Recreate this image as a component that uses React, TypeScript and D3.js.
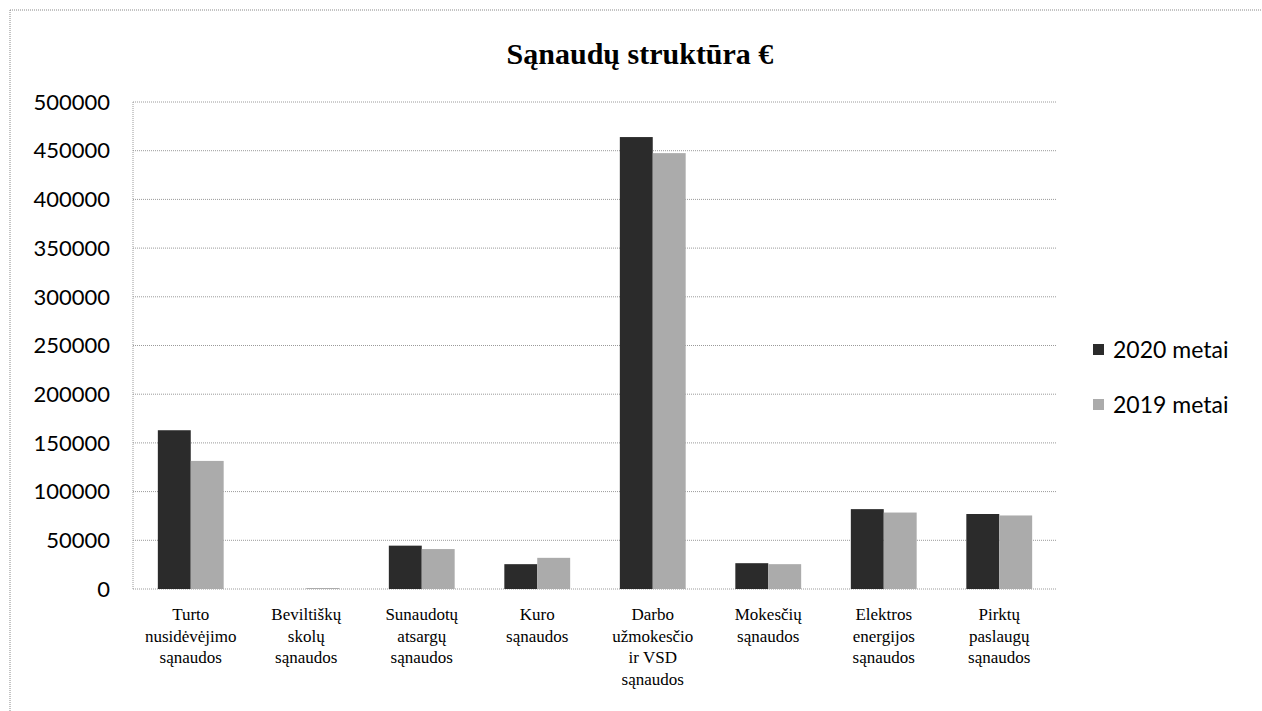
import React from "react";
import * as d3 from "d3";

const title = "Sąnaudų struktūra €";
const categories: string[][] = [
  ["Turto", "nusidėvėjimo", "sąnaudos"],
  ["Beviltiškų", "skolų", "sąnaudos"],
  ["Sunaudotų", "atsargų", "sąnaudos"],
  ["Kuro", "sąnaudos"],
  ["Darbo", "užmokesčio", "ir VSD", "sąnaudos"],
  ["Mokesčių", "sąnaudos"],
  ["Elektros", "energijos", "sąnaudos"],
  ["Pirktų", "paslaugų", "sąnaudos"],
];
const seriesNames = ["2020 metai", "2019 metai"];
const values2020 = [163000, 0, 44500, 25500, 464000, 26500, 82000, 77000];
const values2019 = [131500, 1000, 41000, 32000, 447500, 25500, 78500, 75500];
const yTicks = [0, 50000, 100000, 150000, 200000, 250000, 300000, 350000, 400000, 450000, 500000];
const colors = ["#2b2b2b", "#ababab"];

export default function App() {
  const W = 1262, H = 711;
  const left = 133, right = 1057, top = 102, bottom = 589;
  const keys = categories.map((_, i) => String(i));
  const x = d3.scaleBand<string>().domain(keys).range([left, right]).paddingInner(0.43).paddingOuter(0.215);
  const xs = d3.scaleBand<string>().domain(["0", "1"]).range([0, x.bandwidth()]);
  const y = d3.scaleLinear().domain([0, 500000]).range([bottom, top]);
  const series = [values2020, values2019];
  const grid = "#9a9a9a";
  return (
    <svg width={W} height={H} style={{ position: "absolute", left: 0, top: 0, background: "#fff" }}>
      <rect x={0} y={0} width={W} height={H} fill="#fff" />
      <line x1={10} y1={10} x2={W} y2={10} stroke="#888" strokeDasharray="1 1" />
      <line x1={10} y1={10} x2={10} y2={H} stroke="#888" strokeDasharray="1 1" />
      <text x={640} y={64} textAnchor="middle" fontFamily="'Liberation Serif', serif" fontWeight="bold" fontSize={30} fill="#000">{title}</text>
      {yTicks.map((t) => (
        <g key={t}>
          <line x1={left} x2={right} y1={y(t)} y2={y(t)} stroke={grid} strokeDasharray="1 1" />
          <text x={110} y={y(t)} dy="0.35em" textAnchor="end" fontFamily="Lato, sans-serif" fontSize={22} fill="#000">{t}</text>
        </g>
      ))}
      <line x1={left} x2={left} y1={top} y2={bottom} stroke={grid} strokeDasharray="1 1" />
      {series.map((vals, si) =>
        vals.map((v, i) => (
          <rect key={si + "-" + i} x={(x(String(i)) as number) + (xs(String(si)) as number)} y={y(v)} width={xs.bandwidth()} height={bottom - y(v)} fill={colors[si]} />
        ))
      )}
      {categories.map((lines, i) => (
        <text key={i} textAnchor="middle" fontFamily="'Liberation Serif', serif" fontSize={17} fill="#000">
          {lines.map((ln, j) => (
            <tspan key={j} x={(x(String(i)) as number) + x.bandwidth() / 2} y={620 + j * 21.5}>{ln}</tspan>
          ))}
        </text>
      ))}
      {seriesNames.map((s, i) => (
        <g key={s}>
          <rect x={1093} y={344 + i * 55} width={11} height={11} fill={colors[i]} />
          <text x={1113} y={350 + i * 55} dy="0.35em" fontFamily="Lato, sans-serif" fontSize={23} fill="#000">{s}</text>
        </g>
      ))}
    </svg>
  );
}
